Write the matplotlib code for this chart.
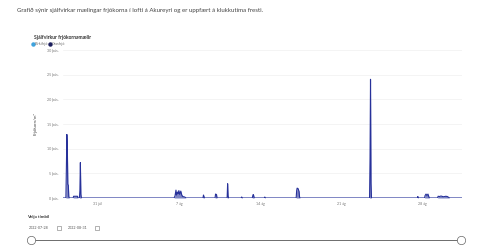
import pandas as pd
import matplotlib.pyplot as plt
from matplotlib.patches import Rectangle
from matplotlib.lines import Line2D

plt.rcParams['font.family'] = ['Lato', 'DejaVu Sans']

# Grasfrjó mælingar (frjókorn/m³), lesið af myndinni
grass_times = [
    "2022-07-28 00:00", "2022-07-28 06:00", "2022-07-28 07:00", "2022-07-28 08:00",
    "2022-07-28 09:00", "2022-07-28 10:00", "2022-07-28 11:00", "2022-07-28 12:00",
    "2022-07-28 13:00", "2022-07-28 21:00", "2022-07-28 22:00", "2022-07-29 06:00",
    "2022-07-29 07:00", "2022-07-29 10:00", "2022-07-29 11:00", "2022-07-29 12:00",
    "2022-07-29 13:00", "2022-07-29 14:00", "2022-08-06 14:00", "2022-08-06 16:00",
    "2022-08-06 18:00", "2022-08-06 19:00", "2022-08-06 21:00", "2022-08-06 22:00",
    "2022-08-07 00:00", "2022-08-07 02:00", "2022-08-07 04:00", "2022-08-07 06:00",
    "2022-08-07 08:00", "2022-08-07 12:00", "2022-08-07 15:00", "2022-08-09 02:00",
    "2022-08-09 03:00", "2022-08-09 05:00", "2022-08-10 03:00", "2022-08-10 04:00",
    "2022-08-10 06:00", "2022-08-10 07:00", "2022-08-11 04:00", "2022-08-11 05:00",
    "2022-08-11 06:00", "2022-08-11 07:00", "2022-08-12 09:00", "2022-08-12 10:00",
    "2022-08-12 12:00", "2022-08-13 08:00", "2022-08-13 09:00", "2022-08-13 10:00",
    "2022-08-13 11:00", "2022-08-13 12:00", "2022-08-14 09:00", "2022-08-14 10:00",
    "2022-08-14 11:00", "2022-08-17 03:00", "2022-08-17 04:00", "2022-08-17 05:00",
    "2022-08-17 07:00", "2022-08-17 09:00", "2022-08-17 10:00", "2022-08-17 11:00",
    "2022-08-23 11:00", "2022-08-23 12:00", "2022-08-23 13:00", "2022-08-23 14:00",
    "2022-08-23 15:00", "2022-08-27 14:00", "2022-08-27 15:00", "2022-08-27 16:00",
    "2022-08-28 05:00", "2022-08-28 06:00", "2022-08-28 08:00", "2022-08-28 10:00",
    "2022-08-28 12:00", "2022-08-28 14:00", "2022-08-28 15:00", "2022-08-29 08:00",
    "2022-08-29 09:00", "2022-08-29 12:00", "2022-08-29 15:00", "2022-08-29 20:00",
    "2022-08-30 01:00", "2022-08-30 04:00", "2022-08-30 09:00", "2022-08-31 10:00",
]
grass_values = [
    0, 0, 6000, 12900,
    10200, 2800, 2600, 300,
    0, 0, 350, 350,
    0, 0, 1500, 7200,
    800, 0, 0, 400,
    1600, 600, 1200, 800,
    1500, 700, 1400, 600,
    300, 200, 0, 0,
    600, 0, 0, 800,
    700, 0, 0, 2900,
    400, 0, 0, 200,
    0, 0, 400, 700,
    500, 0, 0, 200,
    0, 0, 1500, 2000,
    1900, 1300, 200, 0,
    0, 8000, 24100, 3000,
    0, 0, 300, 0,
    0, 500, 800, 500,
    800, 200, 0, 0,
    350, 300, 400, 250,
    350, 300, 0, 0,
]

# Birkifrjó: engar mælingar sjáanlegar
birch_times = ["2022-07-28 00:00", "2022-08-31 10:00"]
birch_values = [0, 0]

y_ticks = [0, 5000, 10000, 15000, 20000, 25000, 30000]
y_labels = ["0 þús.", "5 þús.", "10 þús.", "15 þús.", "20 þús.", "25 þús.", "30 þús."]
x_ticks = ["2022-07-31", "2022-08-07", "2022-08-14", "2022-08-21", "2022-08-28"]
x_labels = ["31 júl", "7 ág", "14 ág", "21 ág", "28 ág"]

grass = pd.Series(grass_values, index=pd.to_datetime(grass_times))
birch = pd.Series(birch_values, index=pd.to_datetime(birch_times))

navy = '#27319a'
light = '#3fa2dc'
grey = '#555555'

fig = plt.figure(figsize=(4.8, 2.49), dpi=100)
ax = fig.add_axes([63 / 480, 1 - 198 / 249, 399 / 480, 148 / 249])

ax.plot(birch.index, birch.values, color=light, linewidth=0.8)
ax.fill_between(grass.index, 0, grass.values, color=navy, alpha=0.6, linewidth=0)
ax.plot(grass.index, grass.values, color=navy, linewidth=0.8)

ax.set_xlim(pd.Timestamp("2022-07-28 00:00"), pd.Timestamp("2022-08-31 10:30"))
ax.set_ylim(0, 30050)
ax.set_yticks(y_ticks)
ax.set_yticklabels(y_labels)
ax.set_xticks(pd.to_datetime(x_ticks))
ax.set_xticklabels(x_labels)
ax.tick_params(length=0, labelsize=2.6, colors='#777777', pad=3)
ax.grid(axis='y', color='#f0f0f0', linewidth=0.5)
ax.set_axisbelow(True)
for s in ax.spines.values():
    s.set_visible(False)
ax.set_ylabel("Frjókorn/m³", fontsize=3.2, color='#444444', labelpad=7)

# texti efst
fig.text(17 / 480, 1 - 10 / 249, "Grafið sýnir sjálfvirkar mælingar frjókorna í lofti á Akureyri "
         "og er uppfært á klukkutíma fresti.", fontsize=4.4, color='#444444', va='center')
fig.text(34 / 480, 1 - 38 / 249, "Sjálfvirkur frjókornamælir", fontsize=3.6,
         color='#333333', va='center', fontweight='bold')

# skýringar
fig.add_artist(Line2D([33 / 480], [1 - 44 / 249], marker='o', markersize=2.2,
                      color=light, linestyle='none'))
fig.text(35 / 480, 1 - 44 / 249, "Birkifrjó", fontsize=2.8, color='#777777', va='center')
fig.add_artist(Line2D([49.5 / 480], [1 - 44 / 249], marker='o', markersize=2.2,
                      color='#1c1f5e', linestyle='none'))
fig.text(51.5 / 480, 1 - 44 / 249, "Grasfrjó", fontsize=2.8, color='#777777', va='center')

# tímabilsval
fig.text(27 / 480, 1 - 217 / 249, "Velja tímbil", fontsize=3.2, color='#333333',
         va='center', fontweight='bold')
fig.text(29 / 480, 1 - 228 / 249, "2022-07-28", fontsize=2.6, color=grey, va='center')
fig.text(68 / 480, 1 - 228 / 249, "2022-08-31", fontsize=2.6, color=grey, va='center')
for xc in (57, 95):
    fig.add_artist(Rectangle((xc / 480, 1 - 230 / 249), 3.5 / 480, 4 / 249,
                             transform=fig.transFigure, fill=False,
                             edgecolor='#777777', linewidth=0.4))
fig.add_artist(Line2D([31 / 480, 461 / 480], [1 - 240 / 249, 1 - 240 / 249],
                      color='#555555', linewidth=0.6))
for xc in (31, 461):
    fig.add_artist(Line2D([xc / 480], [1 - 240 / 249], marker='o', markersize=6,
                          markerfacecolor='white', markeredgecolor='#666666',
                          markeredgewidth=0.5, linestyle='none'))

fig.savefig('out.png', dpi=100)
